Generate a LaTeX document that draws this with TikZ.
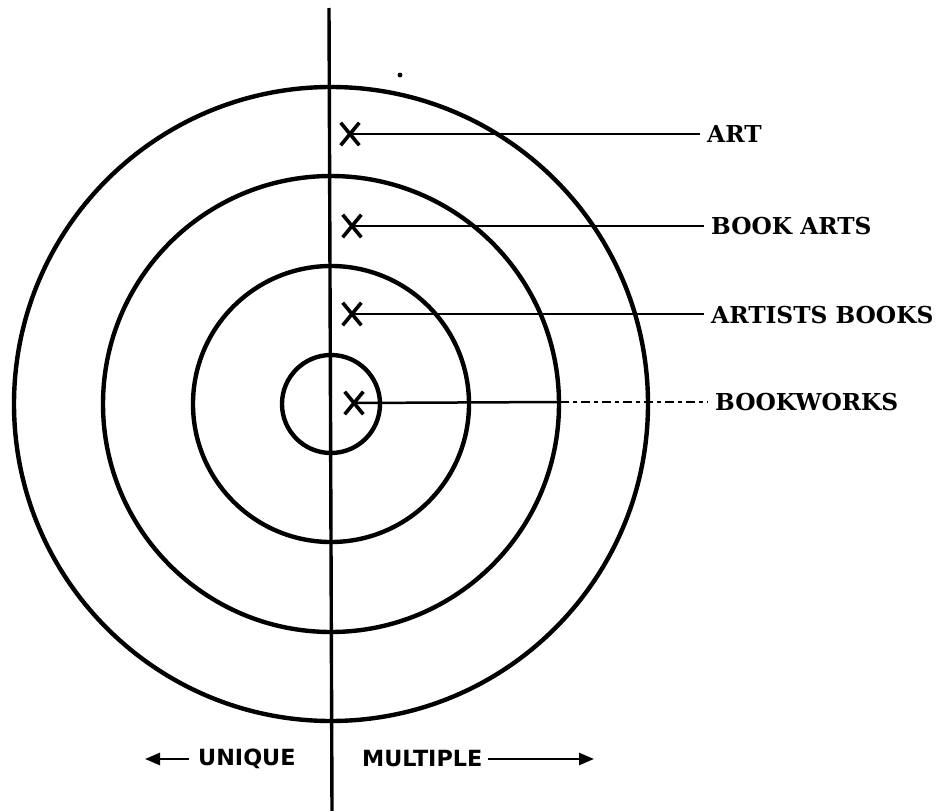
\documentclass[tikz,border=0pt]{standalone}
\usepackage{fontspec}
\newfontfamily\labfont{DejaVu Serif}
\newfontfamily\sidefont{DejaVu Sans}
\usetikzlibrary{shapes.misc,arrows.meta}
\begin{document}
\begin{tikzpicture}[x=1pt,y=-1pt,
  ring/.style={line width=4.4pt},
  axisline/.style={line width=3.4pt},
  leader/.style={line width=2.5pt,shorten >=7pt},
  brokenleader/.style={line width=2.5pt,dash pattern=on 9pt off 4pt on 4pt off 4pt,shorten >=7pt},
  xmark/.style={draw,cross out,line width=3.6pt,minimum width=15pt,minimum height=19pt,inner sep=0pt},
  lab/.style={anchor=west,inner sep=0pt,font=\labfont\bfseries\fontsize{23.3}{25}\selectfont},
  side/.style={inner sep=0pt,font=\sidefont\bfseries\fontsize{22.3}{24}\selectfont},
  dir/.style={line width=2.6pt,-{Triangle[length=15pt,width=12pt]}}]
\useasboundingbox (0,0) rectangle (938,811);
% concentric circles
\coordinate (c) at (331,404);
\draw[ring] (c) circle[radius=317];
\draw[ring] (c) circle[radius=228];
\draw[ring] (c) circle[radius=138];
\draw[ring] (c) circle[radius=49];
% vertical axis
\coordinate (top) at (329,8);
\coordinate (bot) at (332,811);
\draw[axisline] (top) -- (bot);
% small speck
\fill (400,75) circle[radius=2.4];
% marks
\node[xmark] (x1) at (350,134) {};
\node[xmark] (x2) at (352,226) {};
\node[xmark] (x3) at (352,314) {};
\node[xmark] (x4) at (354,403) {};
% labels
\node[lab] (l1) at (707,134) {ART};
\node[lab] (l2) at (711,226) {BOOK ARTS};
\node[lab] (l3) at (711,315) {ARTISTS BOOKS};
\node[lab] (l4) at (715,402) {BOOKWORKS};
% leaders
\draw[leader] (x1.center) -- (x1.center -| l1.west);
\draw[leader] (x2.center) -- (x2.center -| l2.west);
\draw[leader] (x3.center) -- (x3.center -| l3.west);
\coordinate (bwmid) at (560,402);
\draw[line width=2.5pt] (x4.center) -- (bwmid);
\draw[brokenleader] (bwmid) -- (bwmid -| l4.west);
% bottom direction labels
\node[side,anchor=west] (uniq) at (198,759) {UNIQUE};
\node[side,anchor=west] (mult) at (362,759) {MULTIPLE};
\coordinate (ltip) at (145,759);
\coordinate (rtip) at (594,759);
\draw[dir,shorten <=9pt] (uniq.west) -- (ltip);
\draw[dir,shorten <=5pt] (mult.east) -- (rtip);
\end{tikzpicture}
\end{document}
